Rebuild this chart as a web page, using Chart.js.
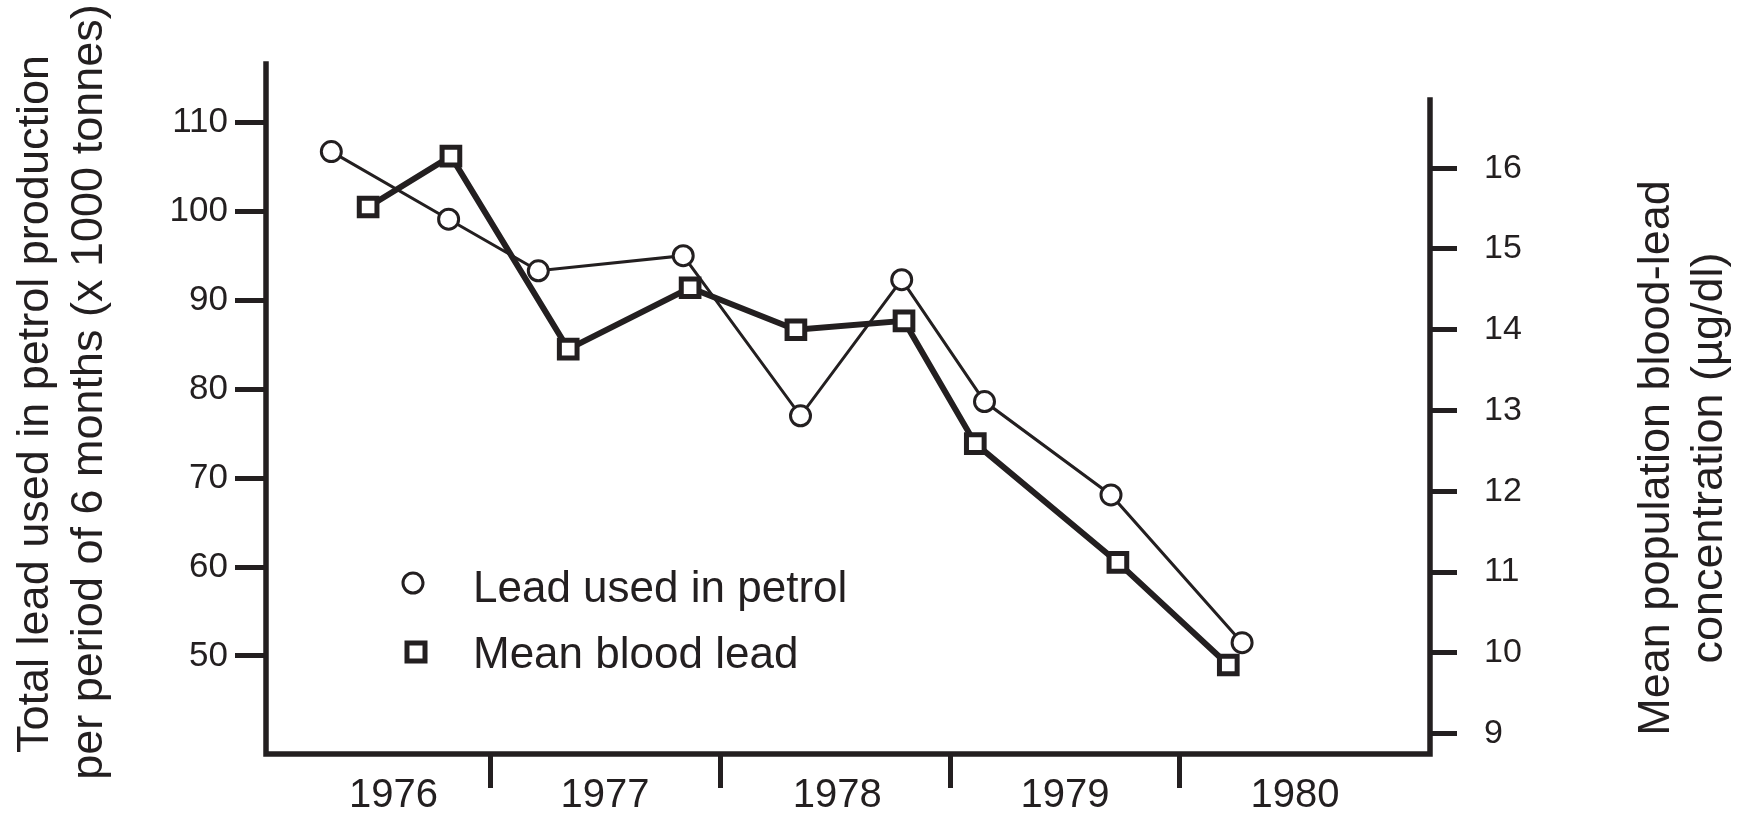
<!DOCTYPE html>
<html>
<head>
<meta charset="utf-8">
<script src="https://cdn.jsdelivr.net/npm/chart.js@4/dist/chart.umd.min.js"></script>
<style>
  html, body { margin: 0; padding: 0; background: #fff; }
  #wrap { width: 1742px; height: 820px; }
</style>
</head>
<body>
<div id="wrap"><canvas id="lead" width="1742" height="820"></canvas></div>
<script>
// half-year points, x in decimal years
const petrolDates = [1976.31, 1976.82, 1977.21, 1977.84, 1978.35, 1978.79, 1979.15, 1979.70, 1980.27];
const petrolValues = [106.7, 99.1, 93.3, 95.0, 77.0, 92.3, 78.6, 68.1, 51.5];

const bloodDates = [1976.47, 1976.83, 1977.34, 1977.87, 1978.33, 1978.80, 1979.11, 1979.73, 1980.21];
const bloodValues = [15.52, 16.15, 13.76, 14.52, 14.00, 14.11, 12.59, 11.12, 9.85];

const years = [1976, 1977, 1978, 1979, 1980];
const yearCentres = [1976.58, 1977.5, 1978.51, 1979.5, 1980.5];
const yearBreaks = [1977, 1978, 1979, 1980];
const leftTicks = [50, 60, 70, 80, 90, 100, 110];
const rightTicks = [9, 10, 11, 12, 13, 14, 15, 16];

const ink = "#231f20";
const font = "'Liberation Sans', Arial, Helvetica, sans-serif";

const points = (xs, ys) => xs.map((x, i) => ({ x: x, y: ys[i] }));

// axis lines, rotated titles and the legend box
const extras = {
  id: "extras",
  afterDraw(chart) {
    const ctx = chart.ctx;
    const a = chart.chartArea;
    ctx.save();
    ctx.strokeStyle = ink;
    ctx.lineWidth = 5.5;
    ctx.lineCap = "square";
    ctx.beginPath();
    ctx.moveTo(a.left, a.top);
    ctx.lineTo(a.left, a.bottom);
    ctx.lineTo(a.right, a.bottom);
    ctx.lineTo(a.right, 100);
    ctx.stroke();

    ctx.fillStyle = ink;
    ctx.font = "45px " + font;
    ctx.textAlign = "center";
    ctx.textBaseline = "alphabetic";
    const vtext = (txt, x, y) => {
      ctx.save();
      ctx.translate(x, y);
      ctx.rotate(-Math.PI / 2);
      ctx.fillText(txt, 0, 0);
      ctx.restore();
    };
    vtext("Total lead used in petrol production", 48, 404);
    vtext("per period of 6 months (x 1000 tonnes)", 102, 392);
    vtext("Mean population blood-lead", 1669, 458);
    vtext("concentration (\u00b5g/dl)", 1722, 458);

    // legend
    ctx.fillStyle = "#fff";
    ctx.lineWidth = 3;
    ctx.beginPath();
    ctx.arc(413, 583, 10, 0, Math.PI * 2);
    ctx.fill();
    ctx.stroke();
    ctx.lineWidth = 5;
    ctx.lineCap = "butt";
    ctx.fillRect(407, 643, 18, 18);
    ctx.strokeRect(407, 643, 18, 18);

    ctx.fillStyle = ink;
    ctx.textAlign = "left";
    ctx.font = "44px " + font;
    ctx.fillText(chart.data.datasets[0].label, 473, 602);
    ctx.fillText(chart.data.datasets[1].label, 473, 668);
    ctx.restore();
  }
};

new Chart(document.getElementById("lead"), {
  type: "line",
  data: {
    datasets: [
      {
        label: "Lead used in petrol",
        data: points(petrolDates, petrolValues),
        yAxisID: "y",
        borderColor: ink,
        borderWidth: 3,
        pointStyle: "circle",
        pointRadius: 10,
        pointBorderWidth: 3,
        pointBackgroundColor: "#fff",
        pointBorderColor: ink,
        tension: 0,
        order: 2
      },
      {
        label: "Mean blood lead",
        data: points(bloodDates, bloodValues),
        yAxisID: "y2",
        borderColor: ink,
        borderWidth: 6,
        pointStyle: "rect",
        pointRadius: 12.5,
        pointBorderWidth: 5,
        pointBackgroundColor: "#fff",
        pointBorderColor: ink,
        tension: 0,
        order: 1
      }
    ]
  },
  options: {
    responsive: false,
    animation: false,
    layout: { padding: { top: 64, left: 0, right: 0, bottom: 0 } },
    plugins: {
      legend: { display: false },
      tooltip: { enabled: false }
    },
    scales: {
      x: {
        type: "linear",
        min: 1976.026,
        max: 1981.087,
        border: { display: false },
        afterBuildTicks: (s) => {
          const vals = yearCentres.concat(yearBreaks).sort((p, q) => p - q);
          s.ticks = vals.map(v => ({ value: v }));
        },
        afterFit: (s) => { s.height = 66; },
        grid: {
          drawOnChartArea: false,
          drawTicks: true,
          tickLength: 34,
          tickWidth: 5,
          tickColor: (c) => yearBreaks.includes(c.tick && c.tick.value) ? ink : "rgba(0,0,0,0)"
        },
        ticks: {
          autoSkip: false,
          maxRotation: 0,
          padding: -16,
          color: ink,
          font: { family: font, size: 40 },
          callback: (v) => {
            const i = yearCentres.indexOf(v);
            return i < 0 ? "" : String(years[i]);
          }
        }
      },
      y: {
        position: "left",
        min: 38.98,
        max: 116.55,
        border: { display: false },
        afterBuildTicks: (s) => { s.ticks = leftTicks.map(v => ({ value: v })); },
        afterFit: (s) => { s.width = 266; },
        grid: {
          drawOnChartArea: false,
          tickLength: 31,
          tickWidth: 5,
          tickColor: ink
        },
        ticks: {
          padding: 7,
          color: ink,
          font: { family: font, size: 35 }
        }
      },
      y2: {
        position: "right",
        min: 8.748,
        max: 17.29,
        border: { display: false },
        afterBuildTicks: (s) => { s.ticks = rightTicks.map(v => ({ value: v })); },
        afterFit: (s) => { s.width = 1742 - 1430; },
        grid: {
          drawOnChartArea: false,
          tickLength: 27,
          tickWidth: 5,
          tickColor: ink
        },
        ticks: {
          padding: 27,
          color: ink,
          font: { family: font, size: 34 }
        }
      }
    }
  },
  plugins: [extras]
});
</script>
</body>
</html>
